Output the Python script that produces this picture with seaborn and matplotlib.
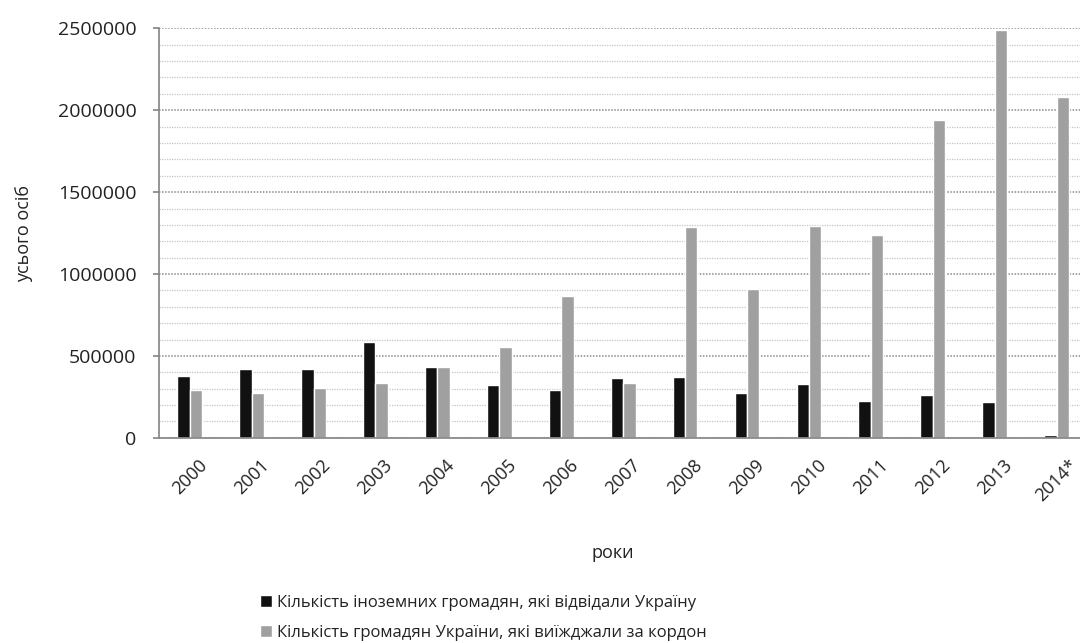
import numpy as np
import pandas as pd
import matplotlib
matplotlib.use("Agg")
import matplotlib.pyplot as plt
import seaborn as sns
from matplotlib.patches import Patch
from matplotlib.ticker import FuncFormatter

years = ['2000', '2001', '2002', '2003', '2004', '2005', '2006', '2007',
         '2008', '2009', '2010', '2011', '2012', '2013', '2014*']
foreign_visitors = [378000, 418000, 418000, 586000, 430000, 322000, 291000, 368000,
                    371000, 276000, 327000, 225000, 260000, 219000, 16000]
citizens_abroad = [291000, 275000, 302000, 338000, 433000, 556000, 865000, 333000,
                   1288000, 907000, 1294000, 1237000, 1940000, 2490000, 2079000]

label_foreign = 'Кількість іноземних громадян, які відвідали Україну'
label_abroad = 'Кількість громадян України, які виїжджали за кордон'

df = pd.DataFrame({
    'year': years * 2,
    'value': foreign_visitors + citizens_abroad,
    'series': [label_foreign] * len(years) + [label_abroad] * len(years),
})

sns.set_theme(style="white")
plt.rcParams['font.family'] = ['Open Sans', 'DejaVu Sans']

colors = {label_foreign: '#111111', label_abroad: '#a0a0a0'}

fig = plt.figure(figsize=(10.8, 6.43), dpi=100)
ax = fig.add_axes([0.147, 0.319, 0.86, 0.637])

sns.barplot(data=df, x='year', y='value', hue='series', palette=colors,
            width=0.4, dodge=True, saturation=1, legend=False, ax=ax)

ax.set_xlim(-0.5, len(years) - 0.5)
ax.set_ylim(0, 2500000)
ax.set_yticks(np.arange(0, 2500001, 500000))
ax.set_yticks(np.arange(0, 2500001, 100000), minor=True)
ax.yaxis.set_major_formatter(FuncFormatter(lambda v, p: f'{int(v)}'))

ax.grid(which='minor', axis='y', color='#c4c4c4', linestyle=(0, (1, 1)), lw=0.9)
ax.grid(which='major', axis='y', color='#8a8a8a', linestyle=(0, (1, 1)), lw=1.1)
ax.set_axisbelow(True)

for s in ['top', 'right']:
    ax.spines[s].set_visible(False)
ax.spines['left'].set_color('#888888')
ax.spines['left'].set_linestyle((0, (1, 1)))
ax.spines['bottom'].set_color('#888888')
ax.spines['bottom'].set_linestyle((0, (1, 1)))

ax.tick_params(axis='y', which='major', left=True, length=4, color='#888888',
               labelsize=14, labelcolor='#222222', pad=12)
ax.tick_params(axis='y', which='minor', left=False)
ax.tick_params(axis='x', bottom=False, labelsize=13, labelcolor='#222222', pad=7)
ax.set_xticks(range(len(years)))
ax.set_xticklabels(years, rotation=45, ha='center')

ax.set_xlabel('роки', fontsize=13, color='#222222')
ax.xaxis.set_label_coords(0.489, -0.26)
ax.set_ylabel('усього осіб', fontsize=13, color='#222222', labelpad=18)

handles = [Patch(facecolor=colors[label_foreign], label=label_foreign),
           Patch(facecolor=colors[label_abroad], label=label_abroad)]
fig.legend(handles=handles, loc='upper left', bbox_to_anchor=(0.233, 0.088),
           frameon=False, fontsize=12, handlelength=0.7, handleheight=0.7,
           handletextpad=0.3, labelspacing=0.85, borderpad=0, labelcolor='#222222')

fig.savefig('out.png', dpi=100)
